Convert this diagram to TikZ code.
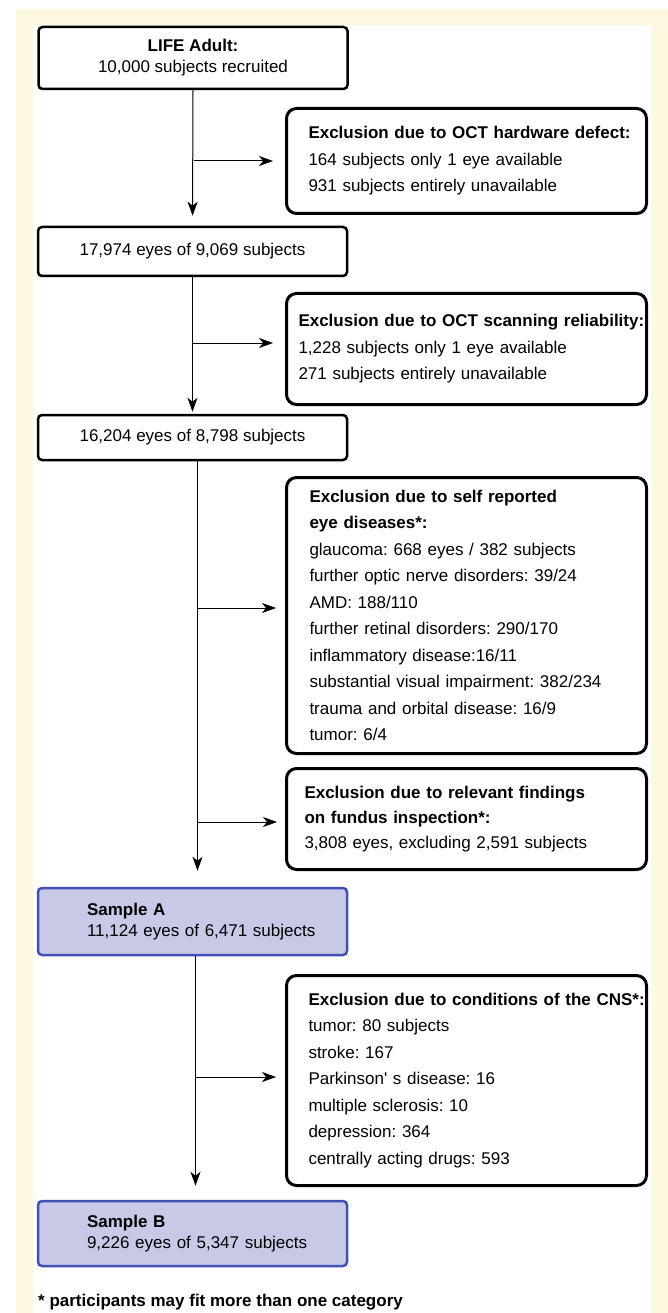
\documentclass[tikz,border=0pt]{standalone}
\usepackage{fontspec}
\setmainfont{Liberation Sans}
\usetikzlibrary{arrows.meta}
\definecolor{cream}{RGB}{255,248,225}
\definecolor{lavender}{RGB}{199,201,230}
\definecolor{sampleblue}{RGB}{63,81,181}
\tikzset{lpad/.style={execute at begin node={\setlength{\leftskip}{#1}}}}
\tikzstyle{mainbox} = [rectangle, rounded corners=4pt, draw=black, line width=2.5pt, minimum width=309pt, align=center, font=\fontsize{17}{21}\selectfont\frenchspacing]
\tikzstyle{samplebox} = [mainbox, draw=sampleblue, fill=lavender, minimum height=67pt, text width=301pt, inner xsep=4pt, align=left, lpad=45pt]
\tikzstyle{exclbox} = [rectangle, rounded corners=10pt, draw=black, line width=3pt, anchor=north west, minimum width=360pt, text width=352pt, inner xsep=4pt, align=left, lpad=18pt, font=\fontsize{17}{26.5}\selectfont\frenchspacing]
\tikzstyle{arrow} = [line width=1pt, -{Stealth[length=14pt,width=10pt,inset=4pt]}]

\begin{document}
\begin{tikzpicture}[x=1pt,y=-1pt]
	\useasboundingbox (0,0) rectangle (668,1313);
	\fill[cream] (16,9) rectangle (668,1313);
	\fill[white] (33,25) rectangle (651,1313);

	% main column
	\node (life) [mainbox, minimum height=62pt] at (193,58) {\textbf{LIFE Adult:}\\10,000 subjects recruited};
	\node (eyes1) [mainbox, minimum height=49pt] at (192.5,251.5) {17,974 eyes of 9,069 subjects};
	\node (eyes2) [mainbox, minimum height=45pt] at (192.5,437.5) {16,204 eyes of 8,798 subjects};
	\node (sampleA) [samplebox] at (192.5,921.5) {\textbf{Sample A}\\11,124 eyes of 6,471 subjects};
	\node (sampleB) [samplebox, minimum height=65pt] at (192.5,1233.5) {\textbf{Sample B}\\9,226 eyes of 5,347 subjects};

	% exclusions
	\node (hardware) [exclbox, minimum height=105pt] at (285,107) {\mbox{\textbf{Exclusion due to OCT hardware defect:}}\\164 subjects only 1 eye available\\931 subjects entirely unavailable};
	\node (scanning) [exclbox, minimum height=111pt, lpad=8pt] at (285,292) {\mbox{\textbf{Exclusion due to OCT scanning reliability:}}\\1,228 subjects only 1 eye available\\271 subjects entirely unavailable};
	\node (selfrep) [exclbox, minimum height=276pt, lpad=19pt] at (285,476) {\textbf{Exclusion due to self reported}\\\textbf{eye diseases*:}\\glaucoma: 668 eyes / 382 subjects\\further optic nerve disorders: 39/24\\AMD: 188/110\\further retinal disorders: 290/170\\inflammatory disease:16/11\\substantial visual impairment: 382/234\\trauma and orbital disease: 16/9\\tumor: 6/4};
	\node (fundus) [exclbox, minimum height=101pt, lpad=14pt, font=\fontsize{17}{25}\selectfont\frenchspacing] at (285,767) {\textbf{Exclusion due to relevant findings}\\\textbf{on fundus inspection*:}\\3,808 eyes, excluding 2,591 subjects};
	\node (cns) [exclbox, minimum height=210pt] at (285,974) {\mbox{\textbf{Exclusion due to conditions of the CNS*:}}\\tumor: 80 subjects\\stroke: 167\\Parkinson\textquotesingle\ s disease: 16\\multiple sclerosis: 10\\depression: 364\\centrally acting drugs: 593};

	\node (note) [anchor=west, inner sep=0pt, font=\fontsize{17}{21}\selectfont\bfseries] at (38,1302) {* participants may fit more than one category};

	% branch points
	\coordinate (b1) at (194,161);
	\coordinate (b2) at (193,343);
	\coordinate (b3) at (197.5,608);
	\coordinate (b4) at (198,822);
	\coordinate (b5) at (196,1077);

	\draw [arrow, shorten >=10pt] (life.south) -- (eyes1.north);
	\draw [arrow, shorten >=2pt] (eyes1.south) -- (eyes2.north);
	\draw [arrow, shorten >=16pt] ([xshift=5pt]eyes2.south) -- ([xshift=5pt]sampleA.north);
	\draw [arrow, shorten >=14pt] ([xshift=3pt]sampleA.south) -- ([xshift=3pt]sampleB.north);
	\draw [arrow, shorten >=12pt] (b1) -- (b1 -| hardware.west);
	\draw [arrow, shorten >=12pt] (b2) -- (b2 -| scanning.west);
	\draw [arrow, shorten >=9pt] (b3) -- (b3 -| selfrep.west);
	\draw [arrow, shorten >=8pt] (b4) -- (b4 -| fundus.west);
	\draw [arrow, shorten >=9pt] (b5) -- (b5 -| cns.west);
\end{tikzpicture}
\end{document}
